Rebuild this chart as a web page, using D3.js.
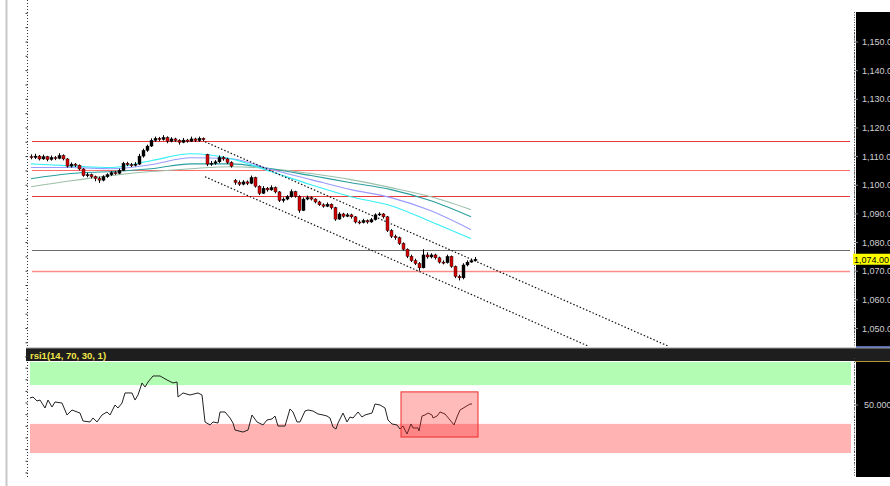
<!DOCTYPE html>
<html><head><meta charset="utf-8">
<script src="https://cdn.jsdelivr.net/npm/d3@7"></script>
<style>
html,body{margin:0;padding:0;background:#fff;}
svg{display:block;font-family:"Liberation Sans",Arial,sans-serif;}
</style></head>
<body>
<svg id="c" width="890" height="486"></svg>
<script>
// ---------- DATA ----------
// candles: [open, high, low, close]
const candles = [
[1109.8,1110.6,1108.9,1109.5],[1109.5,1110.8,1109.0,1110.0],[1110.0,1110.4,1108.5,1109.0],[1109.0,1110.5,1108.7,1109.8],
[1109.8,1110.1,1108.2,1108.8],[1108.8,1110.2,1108.4,1109.5],[1109.5,1110.0,1108.6,1109.2],[1109.2,1111.0,1108.9,1110.2],
[1110.2,1110.6,1108.5,1109.0],[1109.0,1109.3,1106.0,1106.5],[1106.5,1107.8,1106.0,1107.2],[1107.2,1107.6,1106.2,1106.8],
[1106.8,1107.1,1105.0,1105.5],[1105.5,1105.8,1102.8,1103.2],[1103.2,1104.2,1102.6,1103.5],[1103.5,1103.9,1102.2,1102.8],
[1102.8,1103.2,1101.2,1102.2],[1102.2,1102.8,1100.6,1101.6],[1101.6,1103.3,1101.2,1102.8],[1102.8,1104.0,1102.4,1103.5],
[1103.5,1104.7,1103.1,1104.2],[1104.2,1104.8,1103.5,1104.0],[1104.0,1105.6,1103.7,1105.0],[1105.0,1108.0,1104.8,1107.5],
[1107.5,1108.0,1106.5,1107.0],[1107.0,1107.6,1106.2,1106.8],[1106.8,1107.9,1106.4,1107.2],[1107.2,1110.8,1106.9,1110.0],
[1110.0,1112.6,1109.5,1112.0],[1112.0,1114.0,1111.5,1113.5],[1113.5,1116.2,1113.2,1115.5],[1115.5,1116.8,1115.0,1116.2],
[1116.2,1116.7,1115.2,1115.8],[1115.8,1117.3,1115.4,1116.5],[1116.5,1116.9,1114.5,1115.2],[1115.2,1116.6,1114.8,1116.0],
[1116.0,1116.4,1115.0,1115.5],[1115.5,1115.9,1114.0,1114.8],[1114.8,1116.3,1114.5,1115.6],[1115.6,1116.0,1114.7,1115.2],
[1115.2,1116.8,1114.9,1116.0],[1116.0,1116.4,1114.9,1115.4],[1115.4,1116.8,1115.0,1116.2],[1116.2,1116.5,1115.2,1115.7],
[1110.5,1110.8,1106.5,1107.2],[1107.2,1108.3,1106.6,1107.5],[1107.5,1108.6,1107.0,1108.0],[1108.0,1110.2,1107.6,1109.5],
[1109.5,1110.0,1108.4,1109.0],[1109.0,1109.4,1107.2,1107.8],[1107.8,1108.2,1106.0,1106.5],[1101.5,1102.0,1100.0,1100.8],
[1100.8,1101.5,1099.6,1100.2],[1100.2,1101.6,1099.8,1101.0],[1101.0,1101.5,1099.9,1100.5],[1100.5,1103.2,1100.2,1102.5],
[1102.5,1102.8,1099.0,1099.5],[1099.5,1099.8,1096.4,1097.0],[1097.0,1099.5,1096.8,1098.8],[1098.8,1099.2,1097.6,1098.2],
[1098.2,1099.8,1097.9,1099.0],[1099.0,1099.4,1097.0,1097.5],[1097.5,1097.8,1094.0,1094.5],[1094.5,1095.6,1093.8,1095.0],
[1095.0,1096.4,1094.6,1095.8],[1095.8,1098.4,1095.5,1097.6],[1097.6,1097.9,1095.5,1096.0],[1096.0,1096.3,1090.2,1091.0],
[1091.0,1095.6,1090.8,1095.0],[1095.0,1096.2,1094.6,1095.5],[1095.5,1095.9,1094.5,1095.0],[1095.0,1095.3,1093.5,1094.0],
[1094.0,1094.4,1092.6,1093.0],[1093.0,1093.5,1092.0,1092.5],[1092.5,1093.8,1092.2,1093.2],[1093.2,1093.5,1091.4,1092.0],
[1092.0,1092.3,1087.4,1088.0],[1088.0,1090.4,1087.8,1089.8],[1089.8,1090.2,1088.5,1089.0],[1089.0,1090.1,1088.7,1089.5],
[1089.5,1089.9,1088.2,1088.8],[1088.8,1089.1,1086.5,1087.0],[1087.0,1087.6,1086.2,1086.8],[1086.8,1088.1,1086.5,1087.5],
[1087.5,1087.9,1086.4,1087.0],[1087.0,1088.4,1086.7,1087.8],[1087.8,1090.0,1087.5,1089.5],[1089.5,1090.4,1089.1,1089.8],
[1089.8,1090.1,1088.2,1088.8],[1088.8,1089.1,1083.5,1084.0],[1084.0,1084.5,1081.4,1082.0],[1082.0,1082.6,1080.8,1081.5],
[1081.5,1081.9,1079.0,1079.5],[1079.5,1079.9,1077.0,1077.5],[1077.5,1077.8,1074.4,1075.0],[1075.0,1075.6,1073.0,1073.5],
[1073.5,1074.2,1072.0,1072.5],[1072.5,1073.0,1070.0,1071.0],[1071.0,1077.5,1070.8,1075.5],[1075.5,1076.4,1074.2,1074.8],
[1074.8,1076.1,1074.3,1075.5],[1075.5,1075.9,1073.9,1074.5],[1074.5,1074.9,1072.5,1073.0],[1073.0,1073.6,1072.2,1072.8],
[1072.8,1075.6,1072.5,1075.0],[1075.0,1075.3,1071.0,1071.5],[1071.5,1071.8,1067.4,1068.0],[1068.0,1068.6,1066.6,1067.5],
[1067.5,1072.6,1067.0,1072.0],[1072.0,1073.6,1071.5,1073.0],[1073.0,1074.2,1072.8,1073.5],[1073.5,1074.8,1073.2,1074.0]
];
// moving averages sampled at bar indices
const maIndex = [0,10,20,30,40,50,60,70,80,90,100,110];
const maCyan  = [1107.3,1106.6,1106.0,1108.4,1110.8,1109.1,1104.6,1100.0,1095.8,1092.7,1087.1,1081.2];
const maBlue  = [1106.0,1106.0,1105.6,1107.0,1109.4,1109.1,1105.3,1101.8,1098.3,1095.5,1090.9,1084.3];
const maTeal  = [1102.1,1103.9,1104.6,1105.6,1107.3,1107.3,1105.6,1103.2,1100.7,1098.3,1094.4,1088.8];
const maGrey  = [1099.3,1101.4,1103.2,1104.6,1105.6,1106.3,1105.6,1103.9,1101.8,1099.0,1095.8,1091.3];
// horizontal levels
const levels = [
  {price:1115.3, color:"#e83a3a"},
  {price:1105.0, color:"#ff6a6a"},
  {price:1096.0, color:"#e83a3a"},
  {price:1077.3, color:"#6a6a6a"},
  {price:1070.0, color:"#ff8a8a"}
];
// trend channel (bar index, price)
const trendUpper = [[43.5,1115.0],[175,1034.0]];
const trendLower = [[43.5,1102.8],[155,1034.0]];
const priceTicks = [1050,1060,1070,1080,1090,1100,1110,1120,1130,1140,1150];
const lastPrice = 1074.00;
// RSI line: [bar index, value]
const rsiPoints = [
[-0.25,56.7],[0.5,57.7],[1.5,53.6],[2.25,54.6],[3.5,46.4],[4.25,54.6],[5.25,47.4],[6,52.6],[7.75,51.5],
[9,39.2],[10.25,44.3],[12.25,41.2],[13,33.0],[14.75,32.0],[15.5,36.1],[16.5,32.0],[17.75,39.2],[19,42.3],
[19.75,39.2],[21,49.5],[21.75,46.4],[22.75,51.5],[23.5,61.9],[25.25,61.9],[26,54.6],[26.75,59.8],[27.75,72.2],
[28.5,68.0],[29.25,73.2],[30.5,79.4],[32.25,79.4],[34,75.3],[35.5,72.2],[36.5,73.2],[36.75,57.7],[38,61.9],
[39.75,59.8],[41.75,61.9],[42.75,59.8],[43.5,32.0],[44.75,28.9],[45.5,32.0],[46.75,30.9],[47.25,42.3],
[48.5,42.3],[49.75,36.1],[50.5,30.9],[51,23.7],[53,21.6],[54.25,23.7],[55.25,39.2],[56.5,32.0],[58,28.9],
[59,34.0],[60.25,35.1],[61,38.1],[61.75,27.8],[63.5,27.8],[64.75,45.4],[65.5,42.3],[66.5,32.0],[67.25,32.0],
[68.5,43.3],[69.25,44.3],[70.5,43.3],[71.75,40.2],[73,39.2],[74,38.1],[74.75,36.1],[75.5,26.8],[76.25,24.7],
[76.75,30.9],[78,41.2],[79,32.0],[79.75,37.1],[80.5,36.1],[81.75,42.3],[82.75,37.1],[83.5,39.2],[85.25,41.2],
[86,50.5],[87.25,49.5],[88.5,46.4],[89.25,34.0],[90.25,29.9],[91.5,28.9],[92.25,24.7],[93,27.8],[94,19.6],
[95,29.9],[95.5,25.8],[96.75,25.8],[97,22.7],[97.75,38.1],[98.5,39.2],[99.25,41.2],[100.25,39.2],[100.5,36.1],
[101.5,38.1],[102.25,42.3],[103.5,40.2],[104.75,34.0],[105.75,28.9],[106.5,37.1],[107.25,44.3],[108.5,47.4],
[109.75,50.5],[110.25,50.5]
];
const rsiBands = [{from:70,to:100,color:"#b3fcb3"},{from:0,to:30,color:"#ffb3b3"}];
const rsiBox = {i0:92.5, i1:111.75, top:63, bottom:16.5};
const rsiTicks = [50];
const rsiTitle = "rsi1(14, 70, 30, 1)";

// ---------- LAYOUT ----------
const svg = d3.select("#c");
const W = 890, H = 486;
const plotL = 28, plotR = 855;
const mainTop = 12, mainBot = 346;
const rsiTop = 362, rsiBot = 477;

const x = d3.scaleLinear().domain([-0.75, 206]).range([plotL, plotR]);
const yP = d3.scaleLinear().domain([1050, 1150]).range([328, 41.5]);
const yR = d3.scaleLinear().domain([0, 100]).range([453, 356]);

const defs = svg.append("defs");
defs.append("clipPath").attr("id","clipMain").append("rect")
  .attr("x",plotL).attr("y",0).attr("width",plotR-plotL-3).attr("height",mainBot);
defs.append("clipPath").attr("id","clipRsi").append("rect")
  .attr("x",plotL).attr("y",rsiTop).attr("width",plotR-plotL-3).attr("height",rsiBot-rsiTop);

// outer left grey frame line
svg.append("line").attr("x1",6.5).attr("x2",6.5).attr("y1",0).attr("y2",H)
  .attr("stroke","#c8c8c8").attr("stroke-width",2);

// ---------- MAIN PANEL ----------
const gm = svg.append("g").attr("clip-path","url(#clipMain)");

// levels
gm.selectAll("line.lvl").data(levels).join("line")
  .attr("x1",32).attr("x2",850)
  .attr("y1",d=>Math.round(yP(d.price))+0.5).attr("y2",d=>Math.round(yP(d.price))+0.5)
  .attr("stroke",d=>d.color).attr("stroke-width",d=>d.price===1070?1.6:1);

// moving averages
const maLine = d3.line().x((d,i)=>x(maIndex[i])).y(d=>yP(d)).curve(d3.curveMonotoneX);
[[maGrey,"#9cc0aa"],[maTeal,"#2a9e9e"],[maBlue,"#9a9aff"],[maCyan,"#35eef5"]].forEach(([arr,col])=>{
  gm.append("path").attr("d",maLine(arr)).attr("fill","none").attr("stroke",col).attr("stroke-width",1.1);
});

// trend channel
const tl = d3.line().x(d=>x(d[0])).y(d=>yP(d[1]));
[trendUpper,trendLower].forEach(t=>{
  gm.append("path").attr("d",tl(t)).attr("fill","none").attr("stroke","#111")
    .attr("stroke-width",1.2).attr("stroke-dasharray","1.5,2");
});

// candles
const cg = gm.append("g");
candles.forEach((c,i)=>{
  const [o,h,l,cl] = c;
  const cx = Math.round(x(i));
  cg.append("line").attr("x1",cx+0.5).attr("x2",cx+0.5)
    .attr("y1",yP(h)).attr("y2",yP(l)).attr("stroke","#000").attr("stroke-width",1);
  const top = yP(Math.max(o,cl)), bot = yP(Math.min(o,cl));
  cg.append("rect").attr("x",cx-1).attr("width",3)
    .attr("y",top).attr("height",Math.max(1,bot-top))
    .attr("fill", cl>=o ? "#000" : "#d40000")
    .attr("stroke","#000").attr("stroke-width",0.4);
});

// left dotted axis
svg.append("line").attr("x1",27.5).attr("x2",27.5).attr("y1",0).attr("y2",mainBot)
  .attr("stroke","#333").attr("stroke-dasharray","1,2");
svg.append("g").attr("transform","translate(27.5,0)")
  .call(d3.axisLeft(yP).tickValues(d3.range(1040,1165,5)).tickSize(2).tickFormat(""))
  .call(g=>{g.select(".domain").remove(); g.selectAll("line").attr("stroke","#333");});

// right price axis background
svg.append("rect").attr("x",plotR+1).attr("y",mainTop).attr("width",W-plotR).attr("height",mainBot-mainTop)
  .attr("fill","#000");
svg.append("line").attr("x1",plotR+1).attr("x2",W).attr("y1",mainBot+1).attr("y2",mainBot+1)
  .attr("stroke","#1c3c9c").attr("stroke-width",1.5);
// minor dotted ticks
svg.append("g").attr("transform",`translate(${plotR},0)`)
  .call(d3.axisLeft(yP).tickValues(d3.range(1046,1155,1)).tickSize(1).tickFormat(""))
  .call(g=>{g.select(".domain").remove(); g.selectAll("line").attr("stroke","#444");});
svg.append("line").attr("x1",plotR-0.5).attr("x2",plotR-0.5).attr("y1",mainTop).attr("y2",mainBot)
  .attr("stroke","#555").attr("stroke-dasharray","1,1.5");
const pax = svg.append("g").attr("transform",`translate(${plotR},0)`)
  .call(d3.axisRight(yP).tickValues(priceTicks).tickSize(3).tickPadding(4).tickFormat(d3.format(",.1f")));
pax.select(".domain").remove();
pax.selectAll("line").attr("stroke","#888");
pax.selectAll("text").attr("fill","#d0d0d0").attr("font-size",9).attr("dy","0.35em");

// last price tag
const ly = yP(lastPrice);
svg.append("rect").attr("x",plotR-2).attr("y",ly-5.5).attr("width",W-plotR+2).attr("height",11).attr("fill","#ffff00");
svg.append("text").attr("x",plotR-1).attr("y",ly+3.5).attr("font-size",9).attr("fill","#000")
  .text(d3.format(",.2f")(lastPrice));

// ---------- RSI HEADER ----------
svg.append("rect").attr("x",26).attr("y",348).attr("width",W-26).attr("height",13).attr("fill","#1e1e1e");
svg.append("line").attr("x1",26).attr("x2",W).attr("y1",348).attr("y2",348).attr("stroke","#9a9a9a");
svg.append("text").attr("x",30).attr("y",358.5).attr("font-size",9.5).attr("font-weight","bold")
  .attr("fill","#f2e64a").text(rsiTitle);

// ---------- RSI PANEL ----------
const gr = svg.append("g").attr("clip-path","url(#clipRsi)");
gr.selectAll("rect.band").data(rsiBands).join("rect")
  .attr("x",30).attr("width",851-30)
  .attr("y",d=>yR(d.to)).attr("height",d=>yR(d.from)-yR(d.to))
  .attr("fill",d=>d.color);
gr.append("path").datum(rsiPoints)
  .attr("d",d3.line().x(d=>x(d[0])).y(d=>yR(d[1])))
  .attr("fill","none").attr("stroke","#222").attr("stroke-width",1);
gr.append("rect")
  .attr("x",x(rsiBox.i0)).attr("width",x(rsiBox.i1)-x(rsiBox.i0))
  .attr("y",yR(rsiBox.top)).attr("height",yR(rsiBox.bottom)-yR(rsiBox.top))
  .attr("fill","rgba(255,40,40,0.32)").attr("stroke","#ee2a2a").attr("stroke-width",1);

// RSI left dotted axis
svg.append("line").attr("x1",27.5).attr("x2",27.5).attr("y1",rsiTop).attr("y2",rsiBot)
  .attr("stroke","#333").attr("stroke-dasharray","1,2");
svg.append("g").attr("transform","translate(27.5,0)")
  .call(d3.axisLeft(yR).tickValues(d3.range(-20,101,12)).tickSize(2).tickFormat(""))
  .call(g=>{g.select(".domain").remove(); g.selectAll("line").attr("stroke","#333");});

// RSI right axis
svg.append("rect").attr("x",plotR+1).attr("y",rsiTop).attr("width",W-plotR).attr("height",rsiBot-rsiTop)
  .attr("fill","#000");
svg.append("line").attr("x1",plotR).attr("x2",W).attr("y1",rsiTop-0.5).attr("y2",rsiTop-0.5)
  .attr("stroke","#b8963a");
svg.append("line").attr("x1",plotR-0.5).attr("x2",plotR-0.5).attr("y1",rsiTop).attr("y2",rsiBot)
  .attr("stroke","#555").attr("stroke-dasharray","1,1.5");
svg.append("g").attr("transform",`translate(${plotR},0)`)
  .call(d3.axisLeft(yR).tickValues(d3.range(-10,101,4)).tickSize(1).tickFormat(""))
  .call(g=>{g.select(".domain").remove(); g.selectAll("line").attr("stroke","#444");});
const rax = svg.append("g").attr("transform",`translate(${plotR},0)`)
  .call(d3.axisRight(yR).tickValues(rsiTicks).tickSize(3).tickPadding(6).tickFormat(d3.format(".3f")));
rax.select(".domain").remove();
rax.selectAll("line").attr("stroke","#888");
rax.selectAll("text").attr("fill","#d0d0d0").attr("font-size",9).attr("dy","0.35em");
</script>
</body></html>
